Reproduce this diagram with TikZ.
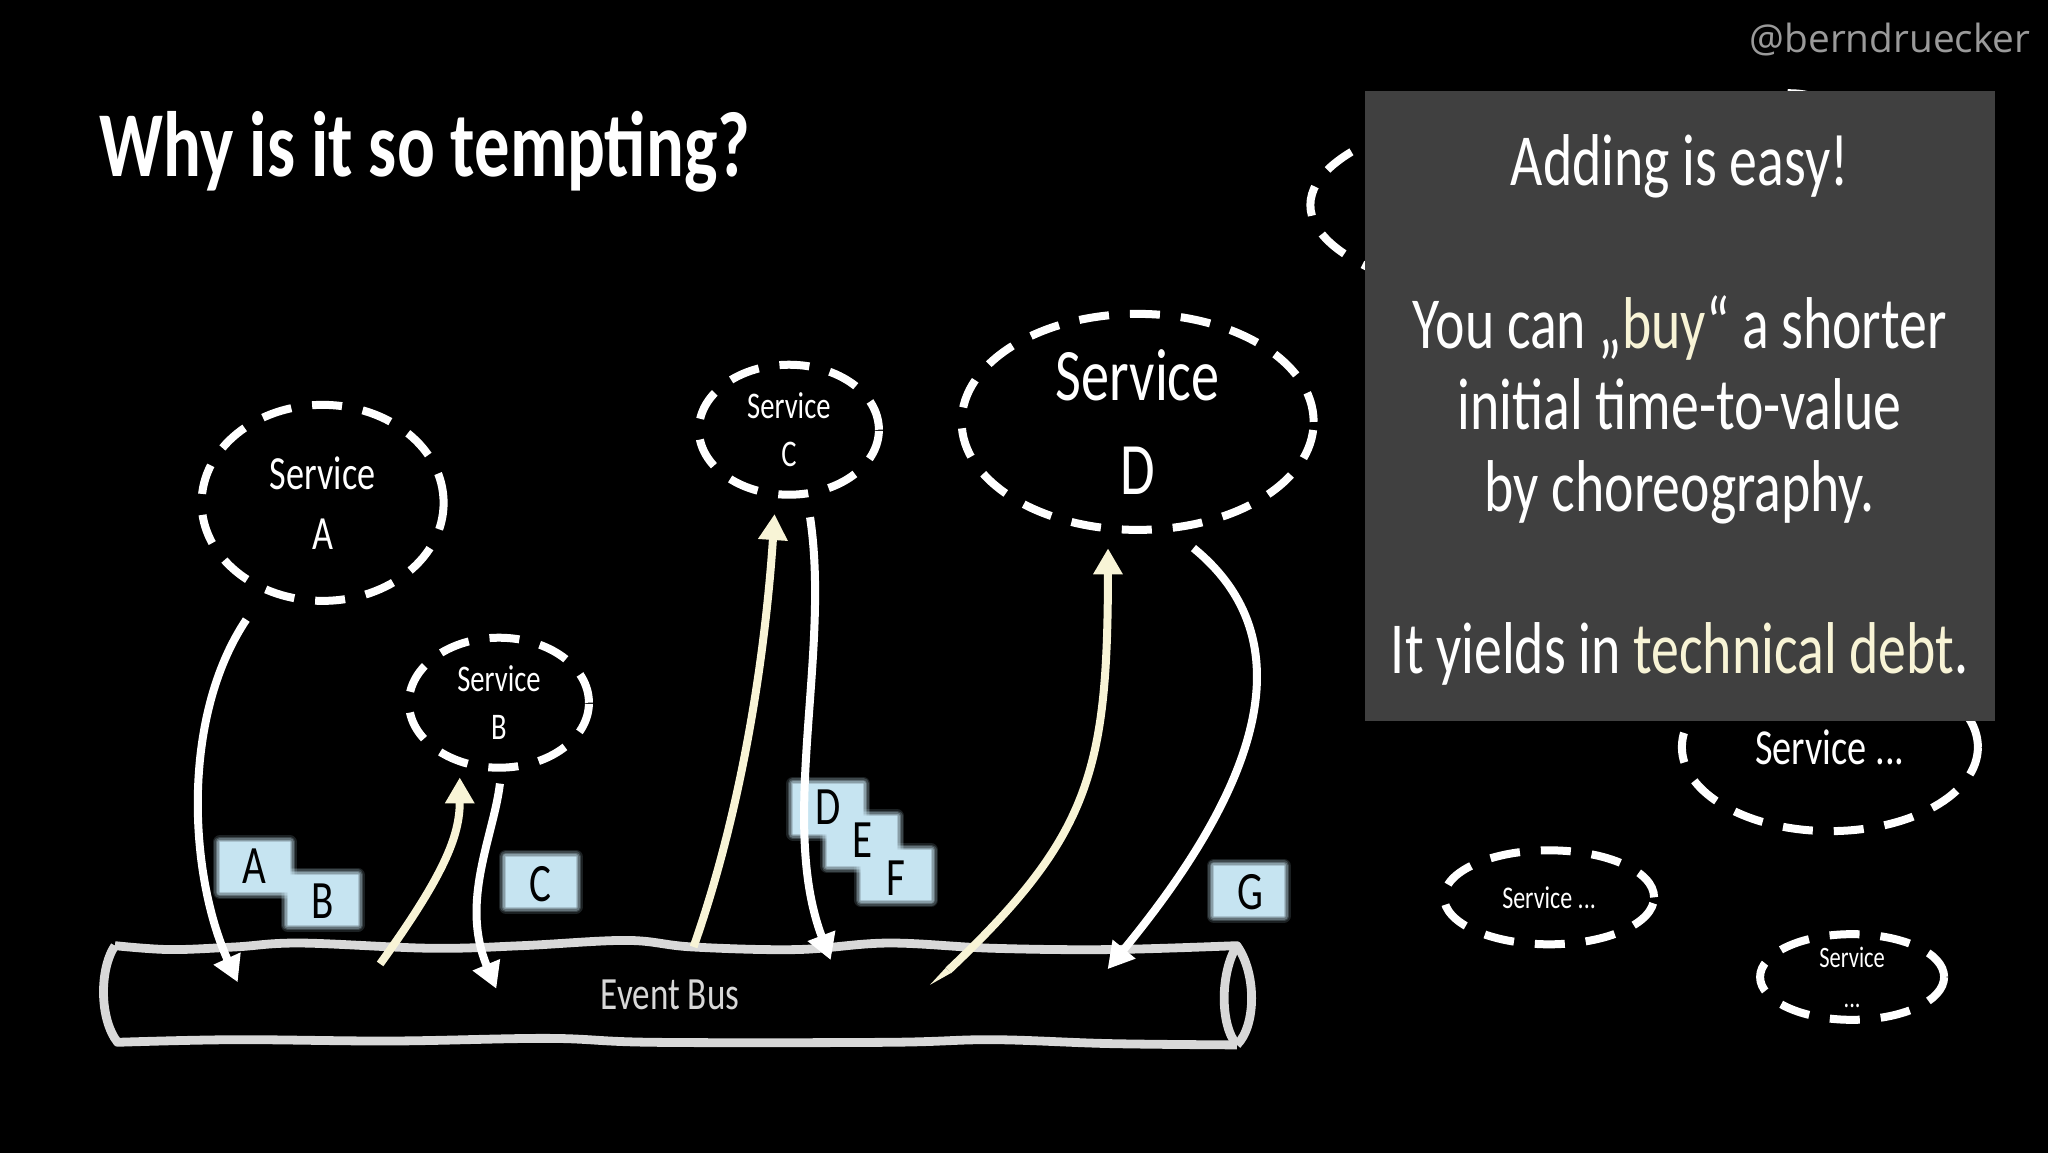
\documentclass[tikz,border=0pt]{standalone}
\usepackage{fontspec}
\setmainfont{Carlito}[FakeStretch=0.76]
\newfontfamily\markfont{Open Sans}
\usetikzlibrary{shapes.geometric,arrows.meta}
\definecolor{cream}{HTML}{F8F4D6}
\definecolor{msgc}{HTML}{C6E4F1}
\definecolor{boxgrey}{HTML}{404040}
\definecolor{busgrey}{HTML}{D8D8D8}
\definecolor{markgrey}{HTML}{9A9A9A}
\tikzset{
  svc/.style={ellipse,draw=white,line width=4pt,dash pattern=on 15pt off 10.5pt,text=white,align=center,inner sep=0pt},
  msg/.style={minimum width=35pt,minimum height=25pt,inner sep=0pt,fill=msgc,
    preaction={draw=msgc,line width=7pt,opacity=.14,line join=round},
    preaction={draw=msgc,line width=5.5pt,opacity=.2,line join=round},
    preaction={draw=msgc,line width=4pt,opacity=.28,line join=round},
    preaction={draw=msgc,line width=2.5pt,opacity=.38,line join=round},
    preaction={draw=msgc,line width=1pt,opacity=.55,line join=round}},
  letter/.style={text=black,inner sep=0pt,font=\fontsize{27}{27}\selectfont},
  flow/.style={line width=4pt,-{Triangle[length=13pt,width=14pt]}},
  flowW/.style={flow,draw=white,color=white},
  flowC/.style={flow,draw=cream,color=cream},
}
\begin{document}
\begin{tikzpicture}[x=0.65306pt,y=-0.65306pt]
\useasboundingbox (0,0) rectangle (1568,882);
\fill[black] (-5,-5) rectangle (1575,890);
\node[text=markgrey,anchor=east,font=\markfont\fontsize{19.4}{24}\selectfont] (mark) at (1560,30) {@berndruecker};
\node[text=white,anchor=west,font=\fontsize{46.4}{50}\selectfont\bfseries] (title) at (71,116) {Why is it so tempting?};

% bus
\draw[busgrey,line width=4.4pt,line join=round]
  plot[smooth,tension=.6] coordinates {(88,724) (130,727) (180,725) (230,722) (330,726) (400,724) (480,720) (530,725) (610,727) (680,722) (760,726) (850,727) (947,724)}
  .. controls (962,745) and (962,785) .. (947,800)
  plot[smooth,tension=.6] coordinates {(947,800) (850,799) (760,796) (680,798) (500,798) (420,795) (300,797) (180,796) (90,798)}
  .. controls (76,780) and (76,742) .. (88,724);
\draw[busgrey,line width=4.4pt] (947,724) .. controls (934,745) and (934,785) .. (947,800);
\node[text=busgrey,font=\fontsize{23.1}{24}\selectfont] (bus) at (513,762) {Event Bus};

% messages
\node[msg] (mA) at (195,664) {};
\node[msg] (mB) at (247,689) {};
\node[msg] (mC) at (414,675) {};
\node[msg] (mD) at (634,619) {};
\node[msg] (mE) at (660,644) {};
\node[msg] (mF) at (686,670) {};
\node[msg] (mG) at (956,682) {};
\node[letter] (lA) at (195,663) {A};
\node[letter] (lB) at (247,690) {B};
\node[letter] (lC) at (414,677) {C};
\node[letter] (lD) at (634,618) {D};
\node[letter] (lE) at (660,643) {E};
\node[letter] (lF) at (686,672) {F};
\node[letter] (lG) at (957,683) {G};

% services
\node[svc,minimum width=121pt,minimum height=98pt,font=\fontsize{23.8}{30}\selectfont] (sA) at (247,385) {Service\\A};
\node[svc,minimum width=90pt,minimum height=65pt,font=\fontsize{18.8}{24}\selectfont] (sB) at (382,538) {Service\\B};
\node[svc,minimum width=90pt,minimum height=65pt,font=\fontsize{18.8}{24}\selectfont] (sC) at (604,329) {Service\\C};
\node[svc,minimum width=176pt,minimum height=108pt,font=\fontsize{37}{47}\selectfont] (sD) at (871,323) {Service\\D};
\node[svc,minimum width=304pt,minimum height=106pt] (sE) at (1236,157) {};
\node[svc,minimum width=148pt,minimum height=84pt,font=\fontsize{25.2}{26}\selectfont] (sF) at (1401,572) {Service ...};
\node[svc,minimum width=105pt,minimum height=47pt,font=\fontsize{15.8}{18}\selectfont] (sG) at (1186,687) {Service ...};
\node[svc,minimum width=92pt,minimum height=41pt,font=\fontsize{14.8}{20}\selectfont] (sH) at (1418,748) {Service\\...};
\node[svc,minimum width=60pt,minimum height=40pt] (sI) at (1370,102) {};

% connector ends on the bus
\coordinate (e1) at (182,752);
\coordinate (e2) at (291,738);
\coordinate (e3) at (380,757);
\coordinate (e4) at (531,725);
\coordinate (e5) at (636,735);
\coordinate (e6) at (726,743);
\coordinate (e6a) at (724,741);
\coordinate (e6b) at (728,745);
\coordinate (e6t) at (712,754);
\coordinate (e7) at (848,742);

\draw[flowW,shorten <=16pt] (sA.-123) .. controls (138,550) and (145,670) .. (e1);
\draw[flowC,shorten >=6pt] (e2) .. controls (340,670) and (352,640) .. (sB.-122);
\draw[flowW,shorten <=6pt] (sB.-88) .. controls (378,640) and (352,690) .. (e3);
\draw[flowC,shorten >=8pt] (e4) .. controls (575,600) and (588,470) .. (sC.-101);
\draw[flowW,shorten <=10pt] (sC.-75) .. controls (636,500) and (596,630) .. (e5);
\draw[flowC,shorten >=8pt] (e6) .. controls (835,640) and (848,590) .. (sD.-105);
\fill[cream] (e6a) -- (e6b) -- (e6t) -- cycle;
\draw[flowW,shorten <=13pt] (sD.-72) .. controls (1000,490) and (965,600) .. (e7);

% callout box
\node[fill=boxgrey,minimum width=314.8pt,minimum height=314.8pt,inner sep=0pt] (panel) at (1286,311) {};
\node[text=white,align=center,font=\fontsize{36.7}{40.7}\selectfont] (paneltext) at (1286,314) {%
Adding is easy!\\
\strut\\
You can „\textcolor{cream}{buy}“ a shorter\\
initial time-to-value\\
by choreography.\\
\strut\\
It yields in \textcolor{cream}{technical debt}.};
\end{tikzpicture}
\end{document}
